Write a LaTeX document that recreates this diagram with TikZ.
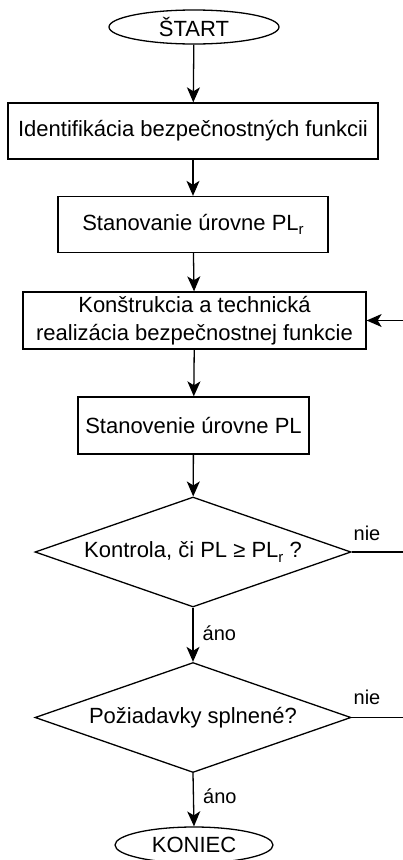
\documentclass[tikz,border=0pt]{standalone}
\usepackage{fontspec}
\setmainfont{Liberation Sans}
\usetikzlibrary{shapes.geometric,arrows.meta}
% lowered subscript r used in PL_r
\newcommand{\subr}{\raisebox{-0.4ex}{\fontsize{15}{15}\selectfont r}}
\tikzset{
  flow/.style={-{Stealth[length=15pt,width=13pt,inset=4pt]}},
}
\begin{document}
\begin{tikzpicture}[
  line width=1.3pt,
  txt/.style={font=\fontsize{22}{28}\selectfont, inner sep=0pt, align=center},
  terminal/.style={txt, draw, ellipse, minimum width=#1, minimum height=34},
  procbox/.style={txt, draw, rectangle, minimum height=56},
  decision/.style={txt, draw, diamond, shape aspect=2.87, minimum width=316, minimum height=110},
  lbl/.style={font=\fontsize{20}{24}\selectfont, inner sep=0pt}
]
\useasboundingbox (0pt,0pt) rectangle (403pt,-860pt);

\node[terminal=170] (start) at (194pt,-27pt) {ŠTART};
\node[procbox, minimum width=370] (b1) at (193pt,-131pt) {Identifikácia bezpečnostných funkcii};
\node[procbox, minimum width=270] (b2) at (193pt,-224.5pt) {Stanovanie úrovne PL\subr};
\node[procbox, minimum width=343, minimum height=57] (b3) at (194.5pt,-320.5pt)
  {Konštrukcia a technická\\realizácia bezpečnostnej funkcie};
\node[procbox, minimum width=231, minimum height=57] (b4) at (193.5pt,-425.5pt) {Stanovenie úrovne PL};
\node[decision] (d1) at (193pt,-552pt) {Kontrola, či PL ≥ PL\subr\ ?};
\node[decision] (d2) at (193pt,-717.5pt) {Požiadavky splnené?};
\node[terminal=158, minimum height=36] (end) at (194pt,-845pt) {KONIEC};

% loop-back ends at the right margin
\coordinate (r1) at (403pt,-552pt);
\coordinate (r2) at (403pt,-717.5pt);
\coordinate (r3) at (403pt,-320.5pt);

\draw[flow] (start) -- (b1);
\draw[flow] (b1) -- (b2);
\draw[flow] (b2) -- (b3);
\draw[flow] (b3) -- (b4);
\draw[flow] (b4) -- (d1);
\draw[flow] (d1) -- node[lbl, right, xshift=9pt, yshift=2pt] (ano1) {áno} (d2);
\draw[flow] (d2.south) -- node[lbl, right, xshift=9pt, yshift=4pt] (ano2) {áno} (end.north);
\draw (d1.east) -- (r1);
\draw (d2.east) -- (r2);
\draw[flow] (r3) -- (b3.east);
\node[lbl] (nie1) at (367pt,-533pt) {nie};
\node[lbl] (nie2) at (367pt,-697pt) {nie};
\end{tikzpicture}
\end{document}
